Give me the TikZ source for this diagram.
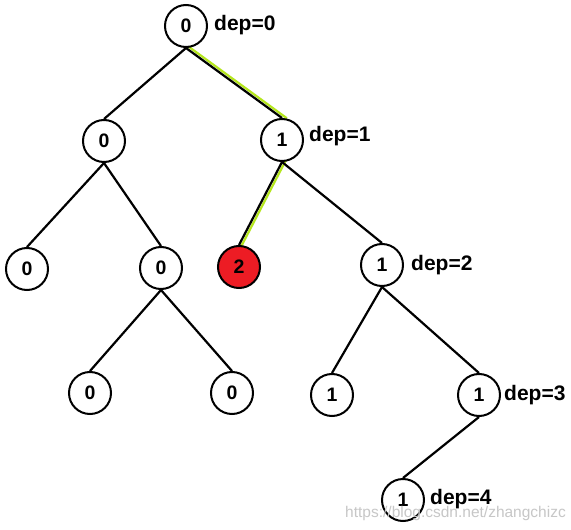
\documentclass[tikz,border=0pt]{standalone}
\usepackage{fontspec}
\setmainfont{Liberation Sans}
\usetikzlibrary{backgrounds}
\definecolor{paintred}{RGB}{237,28,36}
\definecolor{paintlime}{RGB}{181,230,29}
\begin{document}
\begin{tikzpicture}[x=1pt,y=-1pt,
  tnode/.style={circle,draw=black,line width=2pt,fill=white,minimum size=42pt,inner sep=0pt,
    font=\fontsize{19.5}{19.5}\selectfont\bfseries},
  redtnode/.style={tnode,fill=paintred},
  deplabel/.style={anchor=west,inner sep=0pt,font=\fontsize{21}{21}\selectfont\bfseries},
  edge/.style={draw=black,line width=2.2pt},
  hledge/.style={draw=paintlime,line width=2.2pt,shorten <=-4pt,shorten >=-4pt},
  wmark/.style={anchor=east,inner sep=0pt,text=black!22,font=\fontsize{15.5}{15.5}\selectfont}]
\useasboundingbox (0,0) rectangle (571,530);

\node[tnode] (root) at (186,26) {0};
\node[tnode] (a) at (104,141) {0};
\node[tnode] (b) at (282,140) {1};
\node[tnode] (aa) at (27,269) {0};
\node[tnode] (ab) at (161,268) {0};
\node[redtnode] (ba) at (239,267) {2};
\node[tnode] (bb) at (382,265) {1};
\node[tnode] (aba) at (90,393) {0};
\node[tnode] (abb) at (232,393) {0};
\node[tnode] (bba) at (332,395) {1};
\node[tnode] (bbb) at (479,395) {1};
\node[tnode] (bbba) at (403,500) {1};

\node[deplabel] (d0) at (214,25) {dep=0};
\node[deplabel] (d1) at (309,136) {dep=1};
\node[deplabel] (d2) at (411,265) {dep=2};
\node[deplabel] (d3) at (504,395) {dep=3};
\node[deplabel] (d4) at (430,499) {dep=4};

\begin{scope}[on background layer]
  \fill[white] (0,0) rectangle (571,530);
  \draw[hledge] ([shift={(1.6pt,2.1pt)}]root.south) -- ([shift={(1.6pt,2.1pt)}]b.north);
  \draw[hledge] ([shift={(2.3pt,-1.2pt)}]b.south) -- ([shift={(2.3pt,-1.2pt)}]ba.north);
  \draw[edge] (root.south) -- (a.north);
  \draw[edge] (root.south) -- (b.north);
  \draw[edge] (a.south) -- (aa.north);
  \draw[edge] (a.south) -- (ab.north);
  \draw[edge] (ab.south) -- (aba.north);
  \draw[edge] (ab.south) -- (abb.north);
  \draw[edge] (b.south) -- (ba.north);
  \draw[edge] (b.south) -- (bb.north);
  \draw[edge] (bb.south) -- (bba.north);
  \draw[edge] (bb.south) -- (bbb.north);
  \draw[edge] (bbb.south) -- (bbba.north);
\end{scope}

\node[wmark] (wm) at (566,513) {https://blog.csdn.net/zhangchizc};
\end{tikzpicture}
\end{document}
